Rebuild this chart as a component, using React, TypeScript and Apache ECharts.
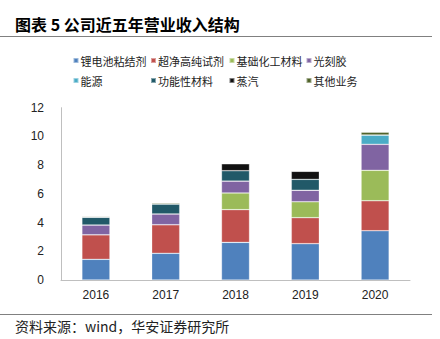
import React, { useEffect, useRef } from "react";
import * as echarts from "echarts";

const years = ["2016", "2017", "2018", "2019", "2020"];
const seriesNames = ["锂电池粘结剂", "超净高纯试剂", "基础化工材料", "光刻胶", "能源", "功能性材料", "蒸汽", "其他业务"];
const lithium = [1.44, 1.86, 2.62, 2.53, 3.43];
const ultraPure = [1.71, 1.99, 2.28, 1.81, 2.09];
const basicChem = [0, 0, 1.16, 1.11, 2.12];
const photoresist = [0.68, 0.75, 0.83, 0.8, 1.81];
const energy = [0, 0, 0, 0, 0.65];
const functional = [0.54, 0.69, 0.72, 0.76, 0];
const steam = [0, 0, 0.49, 0.56, 0];
const others = [0.05, 0.07, 0, 0, 0.19];
const yTicks = { min: 0, max: 12, interval: 2 };

const colors = ["#4F81BD", "#C0504D", "#9BBB59", "#8064A2", "#4BACC6", "#215968", "#111111", "#4F6228"];
const legendPos: [number, number][] = [
  [72.5, 55], [150, 55], [228.5, 55], [305.5, 55],
  [72.5, 75], [150, 75], [228.5, 75], [305.5, 75],
];

export default function App() {
  const ref = useRef<HTMLDivElement>(null);
  useEffect(() => {
    if (!ref.current) return;
    const chart = echarts.init(ref.current, null, { renderer: "svg" });
    const data = [lithium, ultraPure, basicChem, photoresist, energy, functional, steam, others];
    const cjk = "'Noto Sans CJK SC', sans-serif";
    chart.setOption({
      animation: false,
      backgroundColor: "#ffffff",
      color: colors,
      grid: { left: 61, right: 30, top: 107.7, bottom: 59 },
      legend: seriesNames.map((n, i) => ({
        data: [n],
        left: legendPos[i][0],
        top: legendPos[i][1],
        padding: 0,
        itemWidth: 5,
        itemHeight: 5,
        icon: "rect",
        textStyle: { fontSize: 11, color: "#222", fontFamily: cjk, padding: [0, 0, 0, -3] },
      })),
      xAxis: {
        type: "category",
        data: years,
        axisLine: { lineStyle: { color: "#BFBFBF", width: 1 } },
        axisTick: { show: false },
        axisLabel: { color: "#222", fontSize: 12, fontFamily: "'Liberation Sans', Arial, sans-serif", margin: 9 },
      },
      yAxis: {
        type: "value",
        min: yTicks.min,
        max: yTicks.max,
        interval: yTicks.interval,
        axisLine: { show: true, lineStyle: { color: "#BFBFBF", width: 1 } },
        axisTick: { show: false },
        splitLine: { show: false },
        axisLabel: { color: "#222", fontSize: 12, fontFamily: "'Liberation Sans', Arial, sans-serif", margin: 17 },
      },
      series: seriesNames.map((n, i) => ({
        name: n,
        type: "bar",
        stack: "total",
        barWidth: 28,
        data: data[i],
        itemStyle: { color: colors[i], borderColor: "rgba(255,255,255,0.45)", borderWidth: 0.6 },
      })),
      graphic: [
        {
          type: "text",
          left: 15,
          top: 16,
          style: { text: "图表 5 公司近五年营业收入结构", fontSize: 16, fontWeight: "bold", fill: "#000", fontFamily: cjk },
        },
        { type: "line", shape: { x1: 0, y1: 36.5, x2: 432, y2: 36.5 }, style: { stroke: "#808080", lineWidth: 1 } },
        { type: "line", shape: { x1: 0, y1: 314.5, x2: 432, y2: 314.5 }, style: { stroke: "#808080", lineWidth: 1 } },
        {
          type: "text",
          left: 15,
          top: 319,
          style: { text: "资料来源：wind，华安证券研究所", fontSize: 14, fill: "#222", fontFamily: cjk },
        },
      ],
    });
    return () => chart.dispose();
  }, []);
  return <div ref={ref} style={{ width: 440, height: 339, position: "absolute", left: 0, top: 0 }} />;
}
